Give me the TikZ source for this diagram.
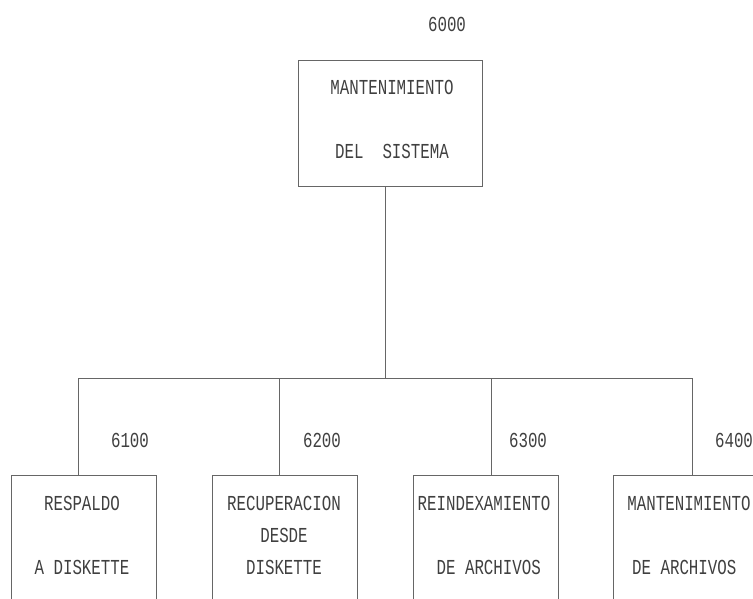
\documentclass[tikz,border=0pt]{standalone}
\usepackage{fontspec}
\usepackage{graphicx}
\setmonofont{Liberation Mono}
\newcommand{\dm}[1]{\scalebox{1}[1.35]{#1}}
\begin{document}
\begin{tikzpicture}[x=1pt,y=-1pt,
  box/.style={draw=black!60, line width=0.9pt, rectangle, inner sep=0pt},
  txt/.style={inner sep=0pt, align=center, text=black!75, font=\ttfamily\fontsize{15.8}{32}\selectfont},
  num/.style={inner sep=0pt, text=black!75, font=\ttfamily\fontsize{15.8}{19}\selectfont},
  conn/.style={draw=black!60, line width=0.9pt}]
\clip (0,0) rectangle (753,598);
\fill[white] (0,0) rectangle (753,598);
% top box
\node[box, minimum width=184pt, minimum height=126pt] (top) at (390,123) {};
\node[txt] (topt) at (392,119.5) {\dm{MANTENIMIENTO}\\\mbox{}\\\dm{DEL~~SISTEMA}};
\node[num] (n0) at (447,24) {\dm{6000}};
% children
\node[box, minimum width=145pt, minimum height=150pt] (b1) at (84,550) {};
\node[box, minimum width=145pt, minimum height=150pt] (b2) at (284.5,550) {};
\node[box, minimum width=145pt, minimum height=150pt] (b3) at (485.5,550) {};
\node[box, minimum width=145pt, minimum height=150pt] (b4) at (685.5,550) {};
\node[txt] (t1) at (82,535) {\dm{RESPALDO}\\\mbox{}\\\dm{A DISKETTE}};
\node[txt] (t2) at (284,535) {\dm{RECUPERACION}\\\dm{DESDE}\\\dm{DISKETTE}};
\node[txt] (t3) at (484,535) {\dm{REINDEXAMIENTO}\\\mbox{}\\\dm{~DE ARCHIVOS}};
\node[txt] (t4) at (689,535) {\dm{MANTENIMIENTO}\\\mbox{}\\\dm{DE ARCHIVOS~}};
\node[num] (n1) at (130,440) {\dm{6100}};
\node[num] (n2) at (322,440) {\dm{6200}};
\node[num] (n3) at (528,440) {\dm{6300}};
\node[num] (n4) at (734,440) {\dm{6400}};
% connectors
\coordinate (tb) at (385,186);
\coordinate (j) at (385,378);
\coordinate (d1) at (78,378);
\coordinate (d2) at (279,378);
\coordinate (d3) at (491,378);
\coordinate (d4) at (692,378);
\draw[conn] (tb) -- (j);
\draw[conn] (d1) -- (d4);
\draw[conn] (d1) -- (d1 |- b1.north);
\draw[conn] (d2) -- (d2 |- b2.north);
\draw[conn] (d3) -- (d3 |- b3.north);
\draw[conn] (d4) -- (d4 |- b4.north);
\end{tikzpicture}
\end{document}
